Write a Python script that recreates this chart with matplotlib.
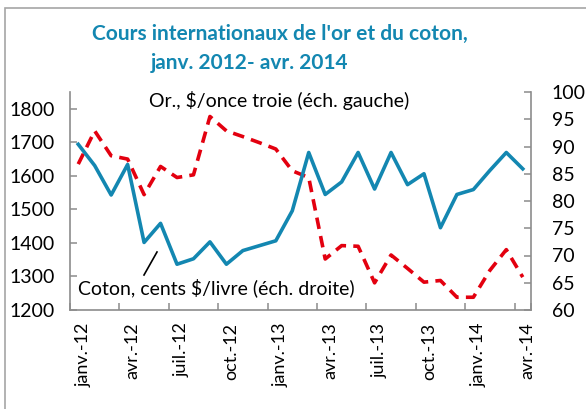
#!/usr/bin/env python3
"""Cours internationaux de l'or et du coton, janv. 2012 - avr. 2014"""
import matplotlib
matplotlib.use('Agg')
import matplotlib.pyplot as plt
from matplotlib.patches import Rectangle
from matplotlib.transforms import ScaledTranslation

plt.rcParams['font.family'] = ['Lato', 'DejaVu Sans']

# données (mensuelles, janv. 2012 - avr. 2014)
months = ['janv.-12', 'févr.-12', 'mars-12', 'avr.-12', 'mai-12', 'juin-12',
          'juil.-12', 'août-12', 'sept.-12', 'oct.-12', 'nov.-12', 'déc.-12',
          'janv.-13', 'févr.-13', 'mars-13', 'avr.-13', 'mai-13', 'juin-13',
          'juil.-13', 'août-13', 'sept.-13', 'oct.-13', 'nov.-13', 'déc.-13',
          'janv.-14', 'févr.-14', 'mars-14', 'avr.-14']
gold = [1635, 1734, 1660, 1650, 1544, 1628, 1595, 1603, 1777, 1734, 1717, 1699,
        1680, 1615, 1595, 1352, 1392, 1390, 1281, 1364, 1324, 1283, 1288, 1238,
        1238, 1318, 1380, 1298]
cotton = [90.4, 86.5, 81.1, 86.7, 72.4, 75.9, 68.4, 69.4, 72.5, 68.4, 70.9, 71.8,
          72.7, 78.2, 88.9, 81.2, 83.5, 88.9, 82.2, 88.9, 83.0, 85.0, 75.1, 81.2,
          82.1, 85.6, 88.9, 85.9]
label_step = 3

BLUE = '#1387b1'
RED = '#e3000f'
GREY = '#8c8c8c'

W, H = 586, 409
fig = plt.figure(figsize=(W / 100, H / 100), dpi=100)
ax = fig.add_axes([70 / W, 1 - 310 / H, (531 - 70) / W, (310 - 92) / H])
ax2 = ax.twinx()

x = list(range(len(months)))
ax.plot(x, gold, color=RED, linewidth=2.6, dashes=(3.2, 2.0), zorder=3)
ax2.plot(x, cotton, color=BLUE, linewidth=2.6, zorder=3)

ax.set_xlim(-0.5, len(months) - 0.5)
ax.set_ylim(1200, 1850)
ax2.set_ylim(60, 100)
ax.set_yticks(range(1200, 1801, 100))
ax2.set_yticks(range(60, 101, 5))

# graduations entre catégories, étiquettes au centre
ax.set_xticks([i - 0.5 for i in range(0, len(months) + 1, label_step)] + [len(months) - 0.5])
ax.set_xticklabels([])
ax.set_xticks(x[::label_step], minor=True)
ax.set_xticklabels(months[::label_step], minor=True, rotation=90, fontsize=13)
ax.tick_params(axis='x', which='minor', length=0, pad=9)
for lbl in ax.get_xticklabels(minor=True):
    lbl.set_transform(lbl.get_transform() + ScaledTranslation(0.05, 0, fig.dpi_scale_trans))

ax.tick_params(axis='both', which='major', direction='in', length=5, width=1.1, color=GREY,
               labelsize=14)
ax.tick_params(axis='y', pad=11)
ax2.tick_params(axis='y', direction='in', length=5, width=1.1, color=GREY, labelsize=14, pad=15)

for a in (ax, ax2):
    a.spines['top'].set_visible(False)
    for s in ('left', 'right', 'bottom'):
        a.spines[s].set_color(GREY)
        a.spines[s].set_linewidth(1.2)
ax.spines['right'].set_visible(False)
ax2.spines['left'].set_visible(False)
ax2.spines['bottom'].set_visible(False)

# titre
fig.text(280 / W, 1 - 34 / H, "Cours internationaux de l'or et du coton,", ha='center', va='center',
         fontsize=15, fontweight='bold', color=BLUE)
fig.text(250 / W, 1 - 63 / H, "janv. 2012- avr. 2014", ha='center', va='center',
         fontsize=15, fontweight='bold', color=BLUE)

# étiquettes des séries
fig.text(279 / W, 1 - 101 / H, "Or., $/once troie (éch. gauche)", ha='center', va='center',
         fontsize=14, color='black')
fig.text(216 / W, 1 - 288 / H, "Coton, cents $/livre (éch. droite)", ha='center', va='center',
         fontsize=14, color='black')
fig.add_artist(plt.Line2D([144 / W, 157 / W], [1 - 275 / H, 1 - 252 / H], color='black', linewidth=1.2))

# cadre
fig.add_artist(Rectangle((5 / W, -0.1), 1.2, 1.1 - 8 / H, transform=fig.transFigure,
                         fill=False, edgecolor='#a6a6a6', linewidth=1.2))

fig.savefig('out.png', dpi=100)
plt.close(fig)
